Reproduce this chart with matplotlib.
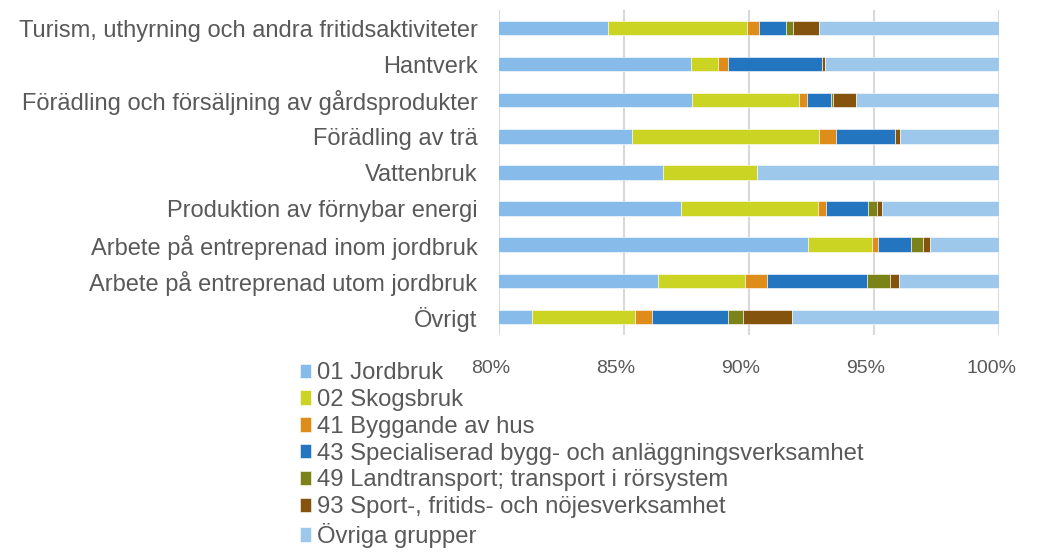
import matplotlib.pyplot as plt
import matplotlib.transforms as mtransforms
import numpy as np

plt.rcParams['font.family'] = ['Liberation Sans', 'DejaVu Sans']

categories = ["Turism, uthyrning och andra fritidsaktiviteter",
              "Hantverk",
              "Förädling och försäljning av gårdsprodukter",
              "Förädling av trä",
              "Vattenbruk",
              "Produktion av förnybar energi",
              "Arbete på entreprenad inom jordbruk",
              "Arbete på entreprenad utom jordbruk",
              "Övrigt"]

groups = ["01 Jordbruk", "02 Skogsbruk", "41 Byggande av hus",
          "43 Specialiserad bygg- och anläggningsverksamhet",
          "49 Landtransport; transport i rörsystem",
          "93 Sport-, fritids- och nöjesverksamhet",
          "Övriga grupper"]

# shares in percent, one list per group (same order as categories)
jordbruk = [84.36, 87.68, 87.71, 85.32, 86.56, 87.28, 92.37, 86.35, 81.32]
skogsbruk = [5.56, 1.07, 4.28, 7.47, 3.76, 5.47, 2.54, 3.49, 4.11]
byggande = [0.48, 0.40, 0.33, 0.69, 0.0, 0.33, 0.26, 0.87, 0.68]
specialiserad = [1.07, 3.77, 0.96, 2.36, 0.0, 1.69, 1.31, 4.02, 3.05]
landtransport = [0.30, 0.0, 0.07, 0.0, 0.0, 0.36, 0.49, 0.91, 0.59]
sport = [1.04, 0.11, 0.94, 0.19, 0.0, 0.19, 0.27, 0.36, 1.96]
ovriga = [7.19, 6.97, 5.71, 3.97, 9.68, 4.68, 2.76, 4.00, 8.29]

colors = ["#86BBEA", "#CBD323", "#DF8D1A", "#2275BE", "#7A8218", "#84540E", "#9DC8EB"]
text_color = "#595959"

series = [jordbruk, skogsbruk, byggande, specialiserad, landtransport, sport, ovriga]

fig = plt.figure(figsize=(10.41, 5.54), dpi=100)
ax = fig.add_axes([0.4793, 0.3953, 0.4804, 0.5867])

y = np.arange(len(categories))
left = np.zeros(len(categories))
for vals, col, name in zip(series, colors, groups):
    vals = np.array(vals)
    ax.barh(y, vals, left=left, height=0.4, color=col, label=name,
            edgecolor="white", linewidth=0.4, zorder=2)
    left = left + vals

ax.set_xlim(80, 100)
ax.set_ylim(len(categories) - 0.5, -0.5)
ax.set_xticks([80, 85, 90, 95, 100])
ax.set_xticklabels(["80%", "85%", "90%", "95%", "100%"])
ax.set_yticks(y)
ax.set_yticklabels(categories)
ax.grid(axis="x", color="#D9D9D9", linewidth=1.5, zorder=0)
ax.set_axisbelow(True)
for s in ax.spines.values():
    s.set_visible(False)
ax.tick_params(axis="both", length=0, colors=text_color)
ax.tick_params(axis="x", labelsize=14, pad=18)
ax.tick_params(axis="y", labelsize=17, pad=15.5)

offset = mtransforms.ScaledTranslation(-8 / 100, 0, fig.dpi_scale_trans)
for lbl in ax.get_xticklabels():
    lbl.set_transform(lbl.get_transform() + offset)

leg = fig.legend(loc="upper left", bbox_to_anchor=(0.288, 0.346),
                 frameon=False, fontsize=17.2, handlelength=0.48,
                 handleheight=0.55, handletextpad=0.25, labelspacing=0.2,
                 borderpad=0, borderaxespad=0)
for t in leg.get_texts():
    t.set_color(text_color)

fig.savefig("out.png", dpi=100)
